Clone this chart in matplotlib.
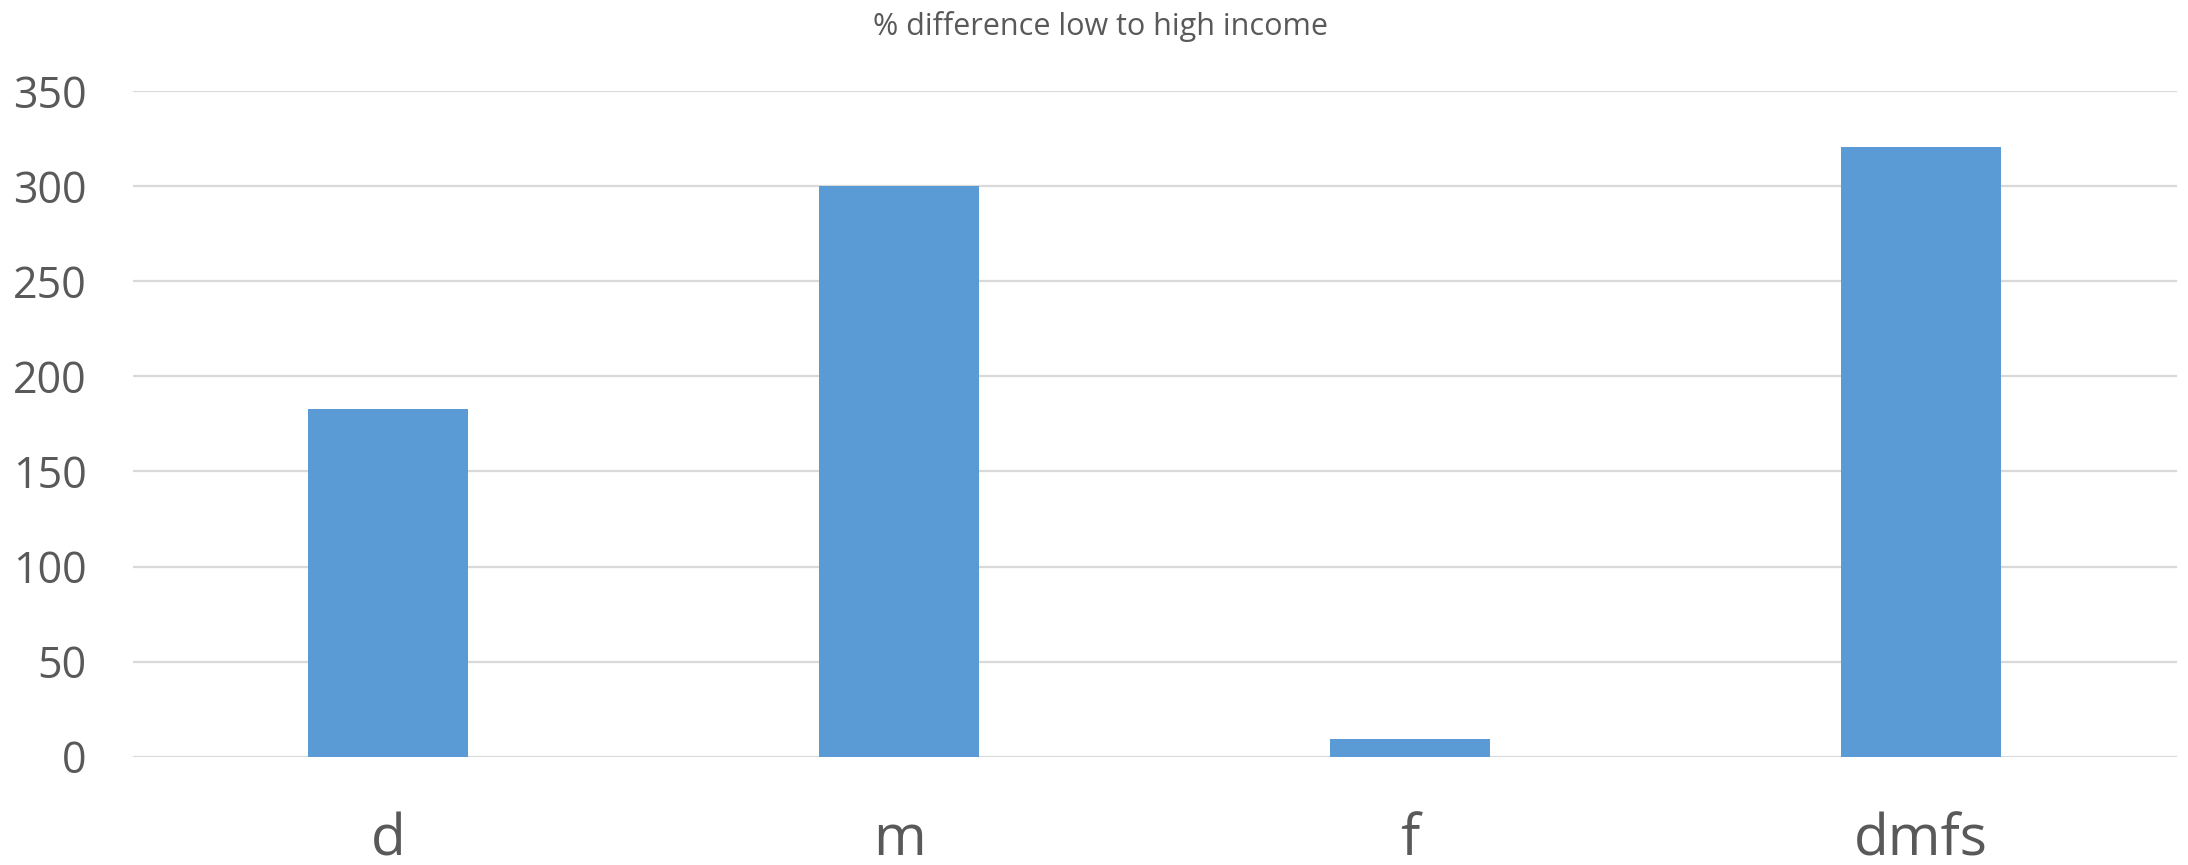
import numpy as np
import matplotlib
matplotlib.use('Agg')
import matplotlib.pyplot as plt

# data
categories = ['d', 'm', 'f', 'dmfs']
values = [182.6, 300.0, 9.1, 320.7]
y_ticks = [0, 50, 100, 150, 200, 250, 300, 350]
title = '% difference low to high income'

bar_color = '#5B9BD5'
grid_color = '#D9D9D9'
text_color = '#595959'

plt.rcParams['font.family'] = ['Open Sans', 'DejaVu Sans']

fig = plt.figure(figsize=(21.88, 8.65), dpi=100)
ax = fig.add_axes([0.0606, 0.1252, 0.9342, 0.7696])

x = np.arange(len(categories))
ax.bar(x, values, width=0.313, color=bar_color, zorder=3)

ax.set_xlim(-0.5, len(categories) - 0.5)
ax.set_ylim(0, 350)
ax.set_yticks(y_ticks)
ax.set_xticks(x)
ax.set_xticklabels(categories)

ax.yaxis.grid(True, color=grid_color, linewidth=1.6, zorder=0)
ax.set_axisbelow(True)
for s in ax.spines.values():
    s.set_visible(False)

ax.tick_params(axis='y', length=0, pad=33, labelsize=31, labelcolor=text_color)
ax.tick_params(axis='x', length=0, pad=40, labelsize=41, labelcolor=text_color)

fig.text(0.503, 0.9595, title, ha='center', va='baseline', fontsize=22, color=text_color)

fig.savefig('out.png', dpi=100)
